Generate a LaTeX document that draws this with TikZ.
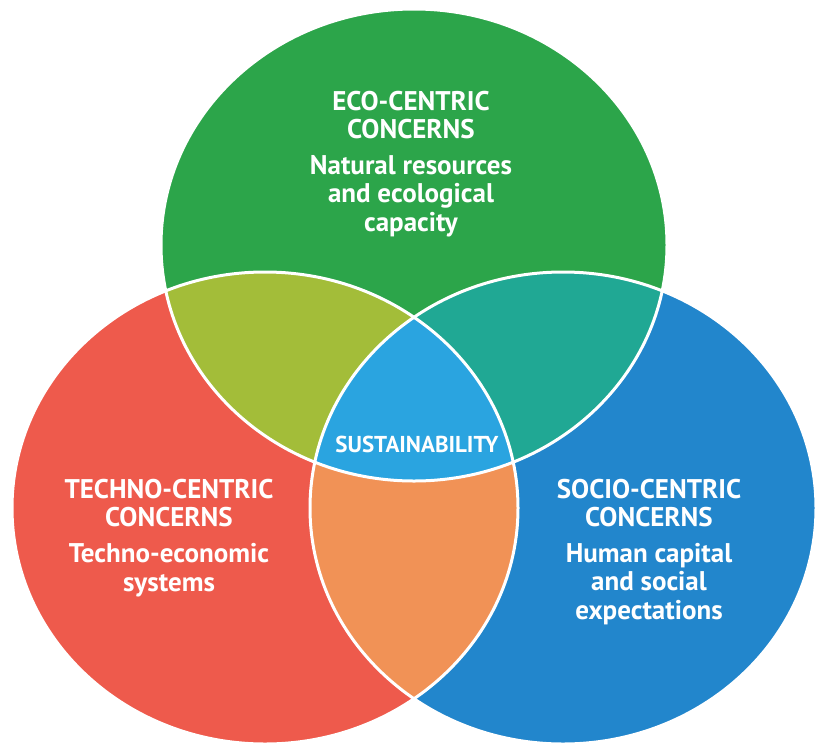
\documentclass[tikz,border=0pt]{standalone}
\usepackage{fontspec}
\setmainfont{PT Sans}
\usetikzlibrary{positioning}

\definecolor{ecogreen}{RGB}{44,165,74}
\definecolor{technored}{RGB}{238,90,76}
\definecolor{socioblue}{RGB}{34,134,204}
\definecolor{lime}{RGB}{163,189,57}
\definecolor{teal}{RGB}{32,168,148}
\definecolor{peach}{RGB}{241,146,86}
\definecolor{skyblue}{RGB}{42,164,224}

\begin{document}
\begin{tikzpicture}[
    x=1pt, y=-1pt,
    every node/.style={text=white, align=center, inner sep=0pt},
    head/.style={font=\bfseries\fontsize{27}{28.5}\selectfont},
    core/.style={font=\bfseries\fontsize{23}{26}\selectfont},
    ring/.style={draw=white, line width=3pt}
]
\useasboundingbox (0,0) rectangle (817,745);

% centres of the three circles
\coordinate (eco) at (414,245);
\coordinate (techno) at (265,508);
\coordinate (socio) at (563,508);

% base discs
\fill[ecogreen] (eco) ellipse [x radius=253, y radius=236];
\fill[technored] (techno) ellipse [x radius=253, y radius=236];
\fill[socioblue] (socio) ellipse [x radius=253, y radius=236];

% overlaps
\begin{scope}
    \clip (eco) ellipse [x radius=253, y radius=236];
    \fill[lime] (techno) ellipse [x radius=253, y radius=236];
    \fill[teal] (socio) ellipse [x radius=253, y radius=236];
\end{scope}
\begin{scope}
    \clip (techno) ellipse [x radius=253, y radius=236];
    \fill[peach] (socio) ellipse [x radius=253, y radius=236];
    \clip (eco) ellipse [x radius=253, y radius=236];
    \fill[skyblue] (socio) ellipse [x radius=253, y radius=236];
\end{scope}

% white outlines
\draw[ring] (eco) ellipse [x radius=253, y radius=236];
\draw[ring] (techno) ellipse [x radius=253, y radius=236];
\draw[ring] (socio) ellipse [x radius=253, y radius=236];

% labels
\node[head] (ecohead) at (411,115) {ECO-CENTRIC\\CONCERNS};
\node[head] (ecotext) at (411,196) {Natural resources\\and ecological\\capacity};

\node[head] (technohead) at (169,503) {TECHNO-CENTRIC\\CONCERNS};
\node[head] (technotext) at (169,570) {Techno-economic\\systems};

\node[head] (sociohead) at (649,503) {SOCIO-CENTRIC\\CONCERNS};
\node[head] (sociotext) at (649,584) {Human capital\\and social\\expectations};

\node[core] (sustain) at (417,444) {SUSTAINABILITY};
\end{tikzpicture}
\end{document}
